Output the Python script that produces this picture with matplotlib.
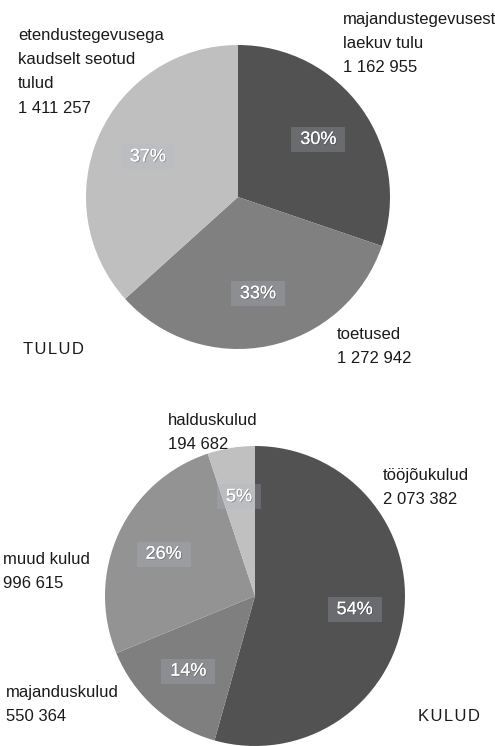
import matplotlib
matplotlib.use('Agg')
import matplotlib.pyplot as plt
import matplotlib.patheffects as pe
from matplotlib import font_manager

# TULUD (income)
income_names = ['majandustegevusest\nlaekuv tulu', 'toetused', 'etendustegevusega\nkaudselt seotud\ntulud']
income_values = [1162955, 1272942, 1411257]
income_colors = ['#525252', '#808080', '#bfbfbf']

# KULUD (expenses)
cost_names = ['tööjõukulud', 'majanduskulud', 'muud kulud', 'halduskulud']
cost_values = [2073382, 550364, 996615, 194682]
cost_colors = ['#525252', '#7f7f7f', '#939393', '#c0c0c0']

W, H = 495, 746
PCT_FONT = ['Liberation Sans', 'DejaVu Sans']

# a narrow face is closer to the original, use it if it is installed
names = {f.name for f in font_manager.fontManager.ttflist}
if 'Liberation Sans Narrow' in names:
    LABEL_FONT, LABEL_SIZE, LS = ['Liberation Sans Narrow', 'DejaVu Sans'], 13.5, 1.6
else:
    LABEL_FONT, LABEL_SIZE, LS = ['Liberation Sans', 'DejaVu Sans'], 12, 1.77


def fmt(v):
    return f'{v:,}'.replace(',', ' ')


def px_axes(fig, cx, cy, r):
    # axes square around a pie centre given in pixels (top-left origin)
    return fig.add_axes([(cx - r) / W, 1 - (cy + r) / H, 2 * r / W, 2 * r / H])


def draw_pie(ax, values, colors, pctdist):
    wedges, texts, autotexts = ax.pie(values, colors=colors, startangle=90, counterclock=False,
                                      autopct=lambda p: f' {p:.0f}% ', pctdistance=pctdist, radius=1,
                                      wedgeprops=dict(linewidth=0))
    for t in autotexts:
        t.set_color('white')
        t.set_fontsize(13)
        t.set_family(PCT_FONT)
        t.set_path_effects([pe.withSimplePatchShadow(offset=(0.6, -0.6), shadow_rgbFace='#333333', alpha=0.4),
                            pe.Normal()])
        t.set_bbox(dict(boxstyle='square,pad=0.22', facecolor='#b4b8c4', alpha=0.25, edgecolor='none'))
    ax.set_xlim(-1, 1)
    ax.set_ylim(-1, 1)
    ax.set_aspect('equal')
    ax.axis('off')


def label(fig, x, y, s, size=None):
    fig.text(x / W, 1 - y / H, s, family=LABEL_FONT, fontsize=size or LABEL_SIZE, color='#1a1a1a',
             ha='left', va='top', linespacing=LS)


def spaced(s):
    return '\u200a'.join(s)


fig = plt.figure(figsize=(W / 100, H / 100), dpi=100)

ax1 = px_axes(fig, 238, 197, 152)
draw_pie(ax1, income_values, income_colors, 0.65)

ax2 = px_axes(fig, 255, 596, 150)
draw_pie(ax2, cost_values, cost_colors, 0.67)

# outer labels (top pie)
label(fig, 343, 12, f'{income_names[0]}\n{fmt(income_values[0])}')
label(fig, 337, 327, f'{income_names[1]}\n{fmt(income_values[1])}')
label(fig, 18, 28, f'{income_names[2]}\n{fmt(income_values[2])}')
label(fig, 23, 342, spaced('TULUD'), size=12)

# outer labels (bottom pie)
label(fig, 383, 468, f'{cost_names[0]}\n{fmt(cost_values[0])}')
label(fig, 6, 685, f'{cost_names[1]}\n{fmt(cost_values[1])}')
label(fig, 3, 552, f'{cost_names[2]}\n{fmt(cost_values[2])}')
label(fig, 168, 413, f'{cost_names[3]}\n{fmt(cost_values[3])}')
label(fig, 418, 709, spaced('KULUD'), size=12)

fig.savefig('out.png', dpi=100, facecolor='white')
